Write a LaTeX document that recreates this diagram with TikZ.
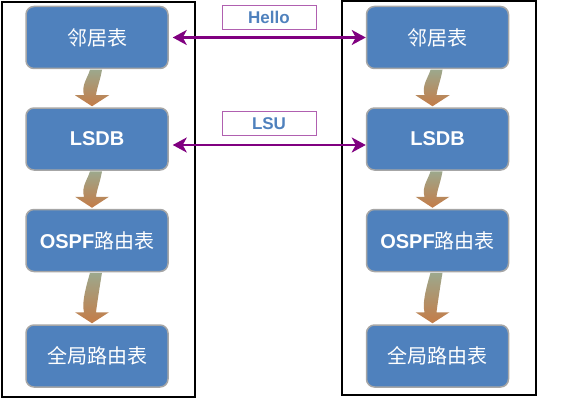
\documentclass[tikz,border=0pt]{standalone}
\usepackage{fontspec}
\setmainfont{Liberation Sans}
\newfontfamily\cjk{Noto Sans CJK SC}
\usetikzlibrary{
    calc,
    positioning,
    arrows.meta
}
\definecolor{boxblue}{RGB}{79,129,189}
\definecolor{boxgray}{RGB}{166,166,166}
\definecolor{linkpurple}{RGB}{128,0,128}
\definecolor{tagpurple}{RGB}{176,96,176}
\definecolor{flowtop}{RGB}{132,146,112}
\definecolor{flowbottom}{RGB}{196,124,72}
\tikzset{
    % Table of one router:
    table node/.style = {
        rectangle,
        rounded corners = 8pt,
        fill = boxblue,
        draw = boxgray,
        line width = 1.5pt,
        minimum width = 142pt,
        minimum height = 62pt,
        inner sep = 0pt,
        text = white,
        font = \fontsize{20}{23}\selectfont
    },
    % Router frame:
    router/.style = {
        draw = black,
        line width = 1.2pt
    },
    % Message exchange:
    link/.style = {
        linkpurple,
        line width = 2.4pt,
        {Stealth[length=14pt, width=15pt, inset=4pt]}-{Stealth[length=14pt, width=15pt, inset=4pt]}
    },
    % Message name:
    tag/.style = {
        draw = tagpurple,
        line width = 0.9pt,
        minimum width = 94pt,
        minimum height = 24pt,
        inner sep = 0pt,
        text = boxblue,
        font = \fontsize{17}{20}\selectfont\bfseries
    },
    % Step between tables:
    flow/.style = {
        top color = flowtop!80!white,
        bottom color = flowbottom,
        draw = none
    }
}

\begin{document}
\begin{tikzpicture}[x=1pt, y=-1pt]
    \useasboundingbox (0, 0) rectangle (577, 401);
    \draw [router] (2, 2) rectangle (195, 397);
    \draw [router] (342, 1) rectangle (536, 395);
    % left router
    \node [table node] (neighA) at (97, 37.5) {\cjk 邻居表};
    \node [table node, below=38pt of neighA] (lsdbA) {\bfseries LSDB};
    \node [table node, below=38pt of lsdbA] (ospfA) {{\bfseries OSPF}{\cjk 路由表}};
    \node [table node, below=52pt of ospfA] (globalA) {\cjk 全局路由表};
    % right router
    \node [table node] (neighB) at (437.5, 37.5) {\cjk 邻居表};
    \node [table node, below=38pt of neighB] (lsdbB) {\bfseries LSDB};
    \node [table node, below=38pt of lsdbB] (ospfB) {{\bfseries OSPF}{\cjk 路由表}};
    \node [table node, below=52pt of ospfB] (globalB) {\cjk 全局路由表};
    \foreach \a/\b in {neighA/lsdbA, lsdbA/ospfA, ospfA/globalA,
                       neighB/lsdbB, lsdbB/ospfB, ospfB/globalB}
        \path [flow]
            ($(\a.south)+(-7, 0.5)$)
            -- ($(\a.south)+(5, 0.5)$)
            .. controls ($(\a.south)+(3, 12)$) and ($(\b.north)+(0, -20)$) .. ($(\b.north)+(-1, -12)$)
            -- ($(\b.north)+(12, -12)$)
            -- ($(\b.north)+(-5, -1)$)
            -- ($(\b.north)+(-22, -12)$)
            -- ($(\b.north)+(-13, -12)$)
            .. controls ($(\b.north)+(-16, -22)$) and ($(\a.south)+(-9, 8)$) .. cycle;
    % messages
    \node [tag] (hello) at (269, 17) {Hello};
    \node [tag] (lsu) at (269, 123.5) {LSU};
    \draw [link, shorten <=4pt] (neighA.east) -- (neighB.west);
    \draw [link, shorten <=4pt] ($(lsdbA.east)+(0, 6)$) -- ($(lsdbB.west)+(0, 6)$);
\end{tikzpicture}
\end{document}
